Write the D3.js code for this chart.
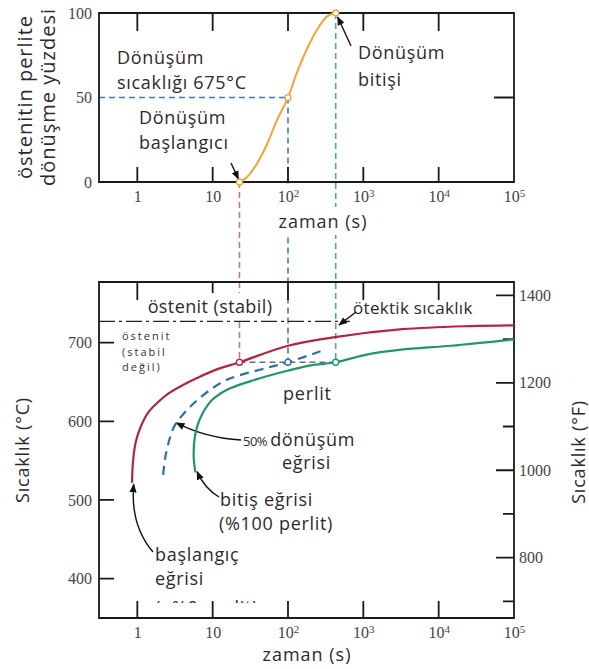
<!DOCTYPE html>
<html><head><meta charset="utf-8">
<script src="https://cdn.jsdelivr.net/npm/d3@7"></script>
<style>body{margin:0;background:#fff}svg{display:block}</style>
</head><body><svg id="c" width="589" height="669"></svg>
<script>
// ---------- data ----------
const timeTicks = [1, 10, 100, 1000, 10000, 100000];
const timeTickLabels = [["1",""],["10",""],["10","2"],["10","3"],["10","4"],["10","5"]];
const percentTicks = [0, 50, 100];
const celsiusTicks = [400, 500, 600, 700];
const fahrenheitMajor = [800, 1000, 1200, 1400];
const fahrenheitMinor = [700, 900, 1100, 1300];

// isothermal transformation at 675 °C (top chart)
const transformTime = [22.7, 28.6, 37.6, 51, 72, 100, 132, 184, 250, 329, 430];
const transformPct  = [0, 3, 10, 21, 37, 50, 65, 80, 91, 98, 100];
const keyTimes = [22.7, 100, 430];
const keyPcts  = [0, 50, 100];
const transformTemp = 675;
const eutectoidTemp = 727;

// TTT curves (bottom chart)
const startTime = [0.85, 0.88, 0.96, 1.12, 1.39, 1.82, 2.47, 4.03, 6.18, 10.7, 22.7, 100, 420, 3300, 25800, 100000];
const startTemp = [522, 551, 575, 594, 611, 623, 634, 646, 655, 665, 675, 696, 707, 717, 721, 722];
const halfTime  = [2.2, 2.36, 2.75, 3.2, 5.1, 9.3, 15.7, 53, 100, 270];
const halfTemp  = [532, 555, 581, 596, 619, 640, 653, 668, 675, 689];
const endTime   = [5.9, 5.6, 5.8, 6.7, 9.6, 15.5, 31.8, 87, 200, 430, 1140, 3160, 14500, 100000];
const endTemp   = [535, 555, 580, 602, 626, 640, 651, 663, 671, 675, 685, 691, 696, 704];

// ---------- setup ----------
const svg = d3.select("#c");
const FONT = "'Open Sans', sans-serif";
const TICKFONT = "'Liberation Serif', serif";
const TXT = "#2b2b2b";
const C_RED = "#b0283f", C_BLUE = "#2f6fa6", C_GREEN = "#23946e", C_ORANGE = "#efa53a";
const V_RED = "#c07a78", V_BLUE = "#3c7db4", V_GREEN = "#4aa79c";

const x = d3.scaleLog().domain([0.31, 1e5]).range([99, 514]);
const yP = d3.scaleLinear().domain([0, 100]).range([182, 13]);
const yC = d3.scaleLinear().domain([350, 777]).range([618, 282]);
const c2f = c => c * 9 / 5 + 32;
const yF = d3.scaleLinear().domain([c2f(350), c2f(777)]).range([618, 282]);

const defs = svg.append("defs");
defs.append("marker").attr("id","ah").attr("viewBox","0 0 10 10").attr("refX",9).attr("refY",5)
  .attr("markerWidth",9).attr("markerHeight",9).attr("markerUnits","userSpaceOnUse").attr("orient","auto")
  .append("path").attr("d","M0,1 L10,5 L0,9 Z").attr("fill","#111");
defs.append("clipPath").attr("id","cut").append("rect").attr("x",0).attr("y",0).attr("width",589).attr("height",603);

const gLines = svg.append("g");
const gAxes = svg.append("g");
const gText = svg.append("g");
const gMarks = svg.append("g");

function halo(sel, pad) {
  sel.each(function(){
    const b = this.getBBox();
    d3.select(this.parentNode).insert("rect", () => this)
      .attr("x", b.x - pad).attr("y", b.y - pad).attr("width", b.width + 2*pad).attr("height", b.height + 2*pad)
      .attr("fill", "#fff");
  });
}
function label(g, txt, px, py, size, opts={}) {
  return g.append("text").attr("x", px).attr("y", py).attr("font-family", FONT)
    .attr("font-size", size).attr("fill", opts.fill || TXT).attr("letter-spacing", opts.ls ?? 0.7)
    .attr("text-anchor", opts.anchor || "start").text(txt);
}

// ---------- connector dashed lines ----------
const vColors = [V_RED, V_BLUE, V_GREEN];
gLines.selectAll("line.v").data(keyTimes).join("line").attr("class", "v")
  .attr("x1", d => x(d)).attr("x2", d => x(d)).attr("y1", (d, i) => yP(keyPcts[i])).attr("y2", yC(transformTemp))
  .attr("stroke", (d, i) => vColors[i]).attr("stroke-width", 1.6).attr("stroke-dasharray", "6,4");
gLines.append("line").attr("x1", x.range()[0]).attr("x2", x(keyTimes[1])).attr("y1", yP(50)).attr("y2", yP(50))
  .attr("stroke", V_BLUE).attr("stroke-width", 1.6).attr("stroke-dasharray", "6,4");
gLines.append("line").attr("x1", x(keyTimes[0])).attr("x2", x(keyTimes[2])).attr("y1", yC(transformTemp)).attr("y2", yC(transformTemp))
  .attr("stroke", "#6f6f6f").attr("stroke-width", 1.6).attr("stroke-dasharray", "6,4");
gLines.append("line").attr("x1", x.range()[0]).attr("x2", 350).attr("y1", yC(eutectoidTemp)).attr("y2", yC(eutectoidTemp))
  .attr("stroke", "#222").attr("stroke-width", 1.4).attr("stroke-dasharray", "16,4,3,4");

// ---------- axis labels (d3 axes) ----------
function styleAxis(g) {
  g.select(".domain").remove();
  g.selectAll(".tick line").remove();
  g.selectAll(".tick text").attr("font-family", TICKFONT).attr("font-size", 16).attr("fill", "#444");
}
function supLabels(g) {
  g.selectAll(".tick text").each(function(d) {
    const [base, sup] = timeTickLabels[timeTicks.indexOf(d)];
    const t = d3.select(this).text(null);
    t.append("tspan").text(base);
    if (sup) t.append("tspan").attr("dy", "-0.45em").attr("font-size", 11).text(sup);
  });
}
function timeAxis(y0) {
  const g = gAxes.append("g").attr("transform", `translate(0,${y0})`)
    .call(d3.axisBottom(x).tickValues(timeTicks).tickSize(0).tickPadding(9));
  styleAxis(g); supLabels(g);
  return g;
}
const gbTop = timeAxis(182);
timeAxis(618);
halo(gbTop.selectAll(".tick text"), 1);

styleAxis(gAxes.append("g").attr("transform", "translate(99,0)")
  .call(d3.axisLeft(yP).tickValues(percentTicks).tickSize(0).tickPadding(7)));
styleAxis(gAxes.append("g").attr("transform", "translate(99,0)")
  .call(d3.axisLeft(yC).tickValues(celsiusTicks).tickSize(0).tickPadding(7)));
styleAxis(gAxes.append("g").attr("transform", "translate(514,0)")
  .call(d3.axisRight(yF).tickValues(fahrenheitMajor).tickFormat(d3.format("d")).tickSize(0).tickPadding(5)));

// ---------- frames with inward ticks, each as one path ----------
const vSeg = (vals, y0, len) => vals.map(d => `M${x(d)},${y0}V${y0 + len}`).join("");
const hSeg = (vals, scale, x0, len) => vals.map(d => `M${x0},${scale(d)}H${x0 + len}`).join("");
const topFrame = "M99,13H514V182H99Z"
  + vSeg(timeTicks.slice(0, 5), 182, -15)
  + vSeg(timeTicks.slice(0, 5), 13, 18)
  + hSeg([50], yP, 514, -20);
const botFrame = "M99,282H514V618H99Z"
  + vSeg(timeTicks.slice(0, 5), 618, -17)
  + vSeg(timeTicks.slice(0, 5), 282, 18)
  + hSeg(celsiusTicks, yC, 99, 15)
  + hSeg(fahrenheitMajor, yF, 514, -18)
  + hSeg(fahrenheitMinor, yF, 514, -11);
[topFrame, botFrame].forEach(d => gAxes.append("path").attr("d", d)
  .attr("fill", "none").attr("stroke", "#1a1a1a").attr("stroke-width", 1.8));

// ---------- axis titles ----------
halo(label(gText, "zaman (s)", 323, 228, 18, {anchor: "middle", ls: 1}), 2);
label(gText, "zaman (s)", 307, 661, 18, {anchor: "middle", ls: 1});
function vTitle(txt, cx, cy, size, ls) {
  gText.append("text").attr("transform", `translate(${cx},${cy}) rotate(-90)`)
    .attr("text-anchor", "middle").attr("dominant-baseline", "central")
    .attr("font-family", FONT).attr("font-size", size).attr("letter-spacing", ls).attr("fill", TXT).text(txt);
}
vTitle("östenitin perlite", 24, 97, 20, 1);
vTitle("dönüşme yüzdesi", 47, 97, 20, 1);
vTitle("Sıcaklık (°C)", 22, 450, 18, 0.8);
vTitle("Sıcaklık (°F)", 578, 452, 18, 0.8);

// ---------- annotations: top ----------
label(gText, "Dönüşüm", 117, 64, 18);
label(gText, "sıcaklığı 675°C", 117, 89, 18);
label(gText, "Dönüşüm", 139, 124, 18);
label(gText, "başlangıcı", 139, 149, 18);
label(gText, "Dönüşüm", 358, 59, 18);
label(gText, "bitişi", 358, 86, 18);

function arrow(d) {
  gText.append("path").attr("d", d).attr("fill", "none").attr("stroke", "#111")
    .attr("stroke-width", 1.4).attr("marker-end", "url(#ah)");
}
arrow(`M231,163 L${x(keyTimes[0]) - 1},${yP(0) - 3}`);
arrow(`M351,46 L${x(keyTimes[2]) + 2},${yP(100) + 4}`);

// ---------- annotations: bottom ----------
halo(label(gText, "östenit (stabil)", 210, 313, 18, {anchor: "middle", ls: 0.4}), 1);
label(gText, "ötektik sıcaklık", 353, 314, 17, {ls: 0.3});
arrow("M356,312 L339,325");
label(gText, "östenit", 122, 340, 11, {ls: 2, fill: "#333"});
label(gText, "(stabil", 122, 355.5, 11, {ls: 2, fill: "#333"});
label(gText, "değil)", 122, 371, 11, {ls: 2, fill: "#333"});
label(gText, "perlit", 283, 400, 18, {ls: 0.8});

const t50 = gText.append("text").attr("x", 243).attr("y", 446).attr("font-family", FONT).attr("fill", TXT);
t50.append("tspan").attr("font-size", 13).attr("letter-spacing", -0.5).text("50%");
t50.append("tspan").attr("font-size", 18).attr("letter-spacing", 0.7).attr("dx", 3).text("dönüşüm");
label(gText, "eğrisi", 282, 469, 18);
arrow(`M241,440 Q206,438 ${x(3.3)},${yC(598)}`);

label(gText, "bitiş eğrisi", 220, 506, 18);
label(gText, "(%100 perlit)", 219, 530, 18);
arrow(`M219,497 Q205,489 ${x(6.2)},${yC(536)}`);

label(gText, "başlangıç", 155, 561, 18);
label(gText, "eğrisi", 155, 585, 18);
label(gText.append("g").attr("clip-path", "url(#cut)"), "(~%0 perlit)", 155, 614, 18);
arrow(`M153,552 Q130,525 ${x(0.87) + 1},${yC(520)}`);

// ---------- curves ----------
gMarks.append("path")
  .datum(transformTime.map((t, i) => [t, transformPct[i]]))
  .attr("d", d3.line().x(d => x(d[0])).y(d => yP(d[1])).curve(d3.curveMonotoneX))
  .attr("fill", "none").attr("stroke", C_ORANGE).attr("stroke-width", 2);

const cLine = d3.line().x(d => x(d[0])).y(d => yC(d[1])).curve(d3.curveCatmullRom.alpha(0.5));
gMarks.append("path").datum(startTime.map((t, i) => [t, startTemp[i]]))
  .attr("d", cLine).attr("fill", "none").attr("stroke", C_RED).attr("stroke-width", 2.2);
gMarks.append("path").datum(halfTime.map((t, i) => [t, halfTemp[i]]))
  .attr("d", cLine).attr("fill", "none").attr("stroke", C_BLUE).attr("stroke-width", 2.2).attr("stroke-dasharray", "9,6");
gMarks.append("path").datum(endTime.map((t, i) => [t, endTemp[i]]))
  .attr("d", cLine).attr("fill", "none").attr("stroke", C_GREEN).attr("stroke-width", 2.2);

// markers
gMarks.selectAll("circle.top").data(keyTimes).join("circle").attr("class", "top")
  .attr("cx", d => x(d)).attr("cy", (d, i) => yP(keyPcts[i])).attr("r", 3)
  .attr("fill", "#fff").attr("stroke", C_ORANGE).attr("stroke-width", 1.3);
gMarks.selectAll("circle.bot").data(keyTimes).join("circle").attr("class", "bot")
  .attr("cx", d => x(d)).attr("cy", yC(transformTemp)).attr("r", 3)
  .attr("fill", "#fff").attr("stroke", (d, i) => [C_RED, C_BLUE, C_GREEN][i]).attr("stroke-width", 1.3);
</script>
</body></html>
